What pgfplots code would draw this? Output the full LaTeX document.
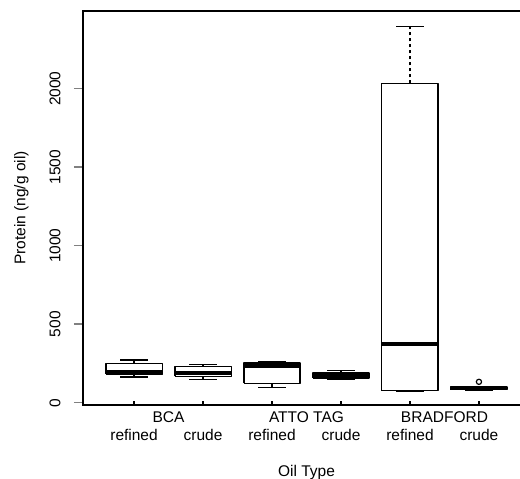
\documentclass[border=0pt]{standalone}
\usepackage{fontspec}
\setmainfont{Liberation Sans}
\usepackage{pgfplots}
\pgfplotsset{compat=1.18}

\pgfplotsset{
  rbox/.style={black, line width=1.6pt, line join=round},
  rmed/.style={black, line width=3.6pt},
  rwhisk/.style={black, line width=1.6pt, dash pattern=on 3.5pt off 2.5pt},
  rcap/.style={black, line width=1.6pt},
}

\begin{document}
\begin{tikzpicture}
\begin{axis}[
    scale only axis,
    width=447pt, height=394pt,
    xmin=0.26, xmax=6.74,
    ymin=-14.6, ymax=2495,
    axis line style={line width=1.7pt},
    font=\fontsize{15.5}{18}\selectfont,
    xtick={1,2,3,4,5,6},
    xticklabels={refined,crude,refined,crude,refined,crude},
    xtick style={draw=none},
    xticklabel style={anchor=center, yshift=-30pt},
    ytick={0,500,1000,1500,2000},
    yticklabels={0,500,1000,1500,2000},
    ytick pos=left,
    ytick align=outside,
    major tick length=9pt,
    ytick style={line width=1.5pt},
    yticklabel style={xshift=-10pt, rotate=90, anchor=south},
    xlabel={Oil Type},
    xlabel style={at={(axis description cs:0.5,0)}, anchor=center, yshift=-67pt},
    ylabel={Protein (ng/g oil)},
    ylabel style={at={(axis description cs:-0.1376,0.5)}, anchor=center},
    clip=false,
]
% BCA refined
\addplot[rbox] coordinates {(0.59,180)(1.41,180)(1.41,250)(0.59,250)(0.59,180)};
\addplot[rmed] coordinates {(0.59,195)(1.41,195)};
\addplot[rwhisk] coordinates {(1,250)(1,272)};
\addplot[rwhisk] coordinates {(1,162)(1,180)};
\addplot[rcap] coordinates {(0.8,272)(1.2,272)};
\addplot[rcap] coordinates {(0.8,162)(1.2,162)};
% BCA crude
\addplot[rbox] coordinates {(1.59,168)(2.41,168)(2.41,231)(1.59,231)(1.59,168)};
\addplot[rmed] coordinates {(1.59,190)(2.41,190)};
\addplot[rwhisk] coordinates {(2,231)(2,244)};
\addplot[rwhisk] coordinates {(2,148)(2,168)};
\addplot[rcap] coordinates {(1.8,244)(2.2,244)};
\addplot[rcap] coordinates {(1.8,148)(2.2,148)};
% ATTO TAG refined
\addplot[rbox] coordinates {(2.59,123)(3.41,123)(3.41,253)(2.59,253)(2.59,123)};
\addplot[rmed] coordinates {(2.59,233)(3.41,233)};
\addplot[rwhisk] coordinates {(3,253)(3,258)};
\addplot[rwhisk] coordinates {(3,98)(3,123)};
\addplot[rcap] coordinates {(2.8,258)(3.2,258)};
\addplot[rcap] coordinates {(2.8,98)(3.2,98)};
% ATTO TAG crude
\addplot[rbox] coordinates {(3.59,157)(4.41,157)(4.41,188)(3.59,188)(3.59,157)};
\addplot[rmed] coordinates {(3.59,174)(4.41,174)};
\addplot[rwhisk] coordinates {(4,188)(4,204)};
\addplot[rwhisk] coordinates {(4,150)(4,157)};
\addplot[rcap] coordinates {(3.8,204)(4.2,204)};
\addplot[rcap] coordinates {(3.8,150)(4.2,150)};
% BRADFORD refined
\addplot[rbox] coordinates {(4.59,77)(5.41,77)(5.41,2034)(4.59,2034)(4.59,77)};
\addplot[rmed] coordinates {(4.59,374)(5.41,374)};
\addplot[rwhisk] coordinates {(5,2034)(5,2395)};
\addplot[rwhisk] coordinates {(5,74)(5,77)};
\addplot[rcap] coordinates {(4.8,2395)(5.2,2395)};
\addplot[rcap] coordinates {(4.8,74)(5.2,74)};
% BRADFORD crude
\addplot[rbox] coordinates {(5.59,83)(6.41,83)(6.41,99)(5.59,99)(5.59,83)};
\addplot[rmed] coordinates {(5.59,90)(6.41,90)};
\addplot[rwhisk] coordinates {(6,99)(6,104)};
\addplot[rwhisk] coordinates {(6,79)(6,83)};
\addplot[rcap] coordinates {(5.8,104)(6.2,104)};
\addplot[rcap] coordinates {(5.8,79)(6.2,79)};
\addplot[only marks, mark=o, mark size=2.6pt, mark options={black, line width=1.2pt}]
  coordinates {(6,133)};

% short inward x ticks
\draw[line width=1.3pt] (axis cs:1,-14.6) -- (axis cs:1,11);
\draw[line width=1.3pt] (axis cs:2,-14.6) -- (axis cs:2,11);
\draw[line width=1.3pt] (axis cs:3,-14.6) -- (axis cs:3,11);
\draw[line width=1.3pt] (axis cs:4,-14.6) -- (axis cs:4,11);
\draw[line width=1.3pt] (axis cs:5,-14.6) -- (axis cs:5,11);
\draw[line width=1.3pt] (axis cs:6,-14.6) -- (axis cs:6,11);
\node[anchor=center, yshift=-12pt] at (axis cs:1.5,-14.6) {BCA};
\node[anchor=center, yshift=-12pt] at (axis cs:3.5,-14.6) {ATTO TAG};
\node[anchor=center, yshift=-12pt] at (axis cs:5.5,-14.6) {BRADFORD};
\end{axis}
\pgfresetboundingbox
\useasboundingbox ([xshift=-83pt,yshift=-74pt]current axis.south west)
  rectangle ([xshift=-10pt,yshift=11pt]current axis.north east);
\end{tikzpicture}
\end{document}
